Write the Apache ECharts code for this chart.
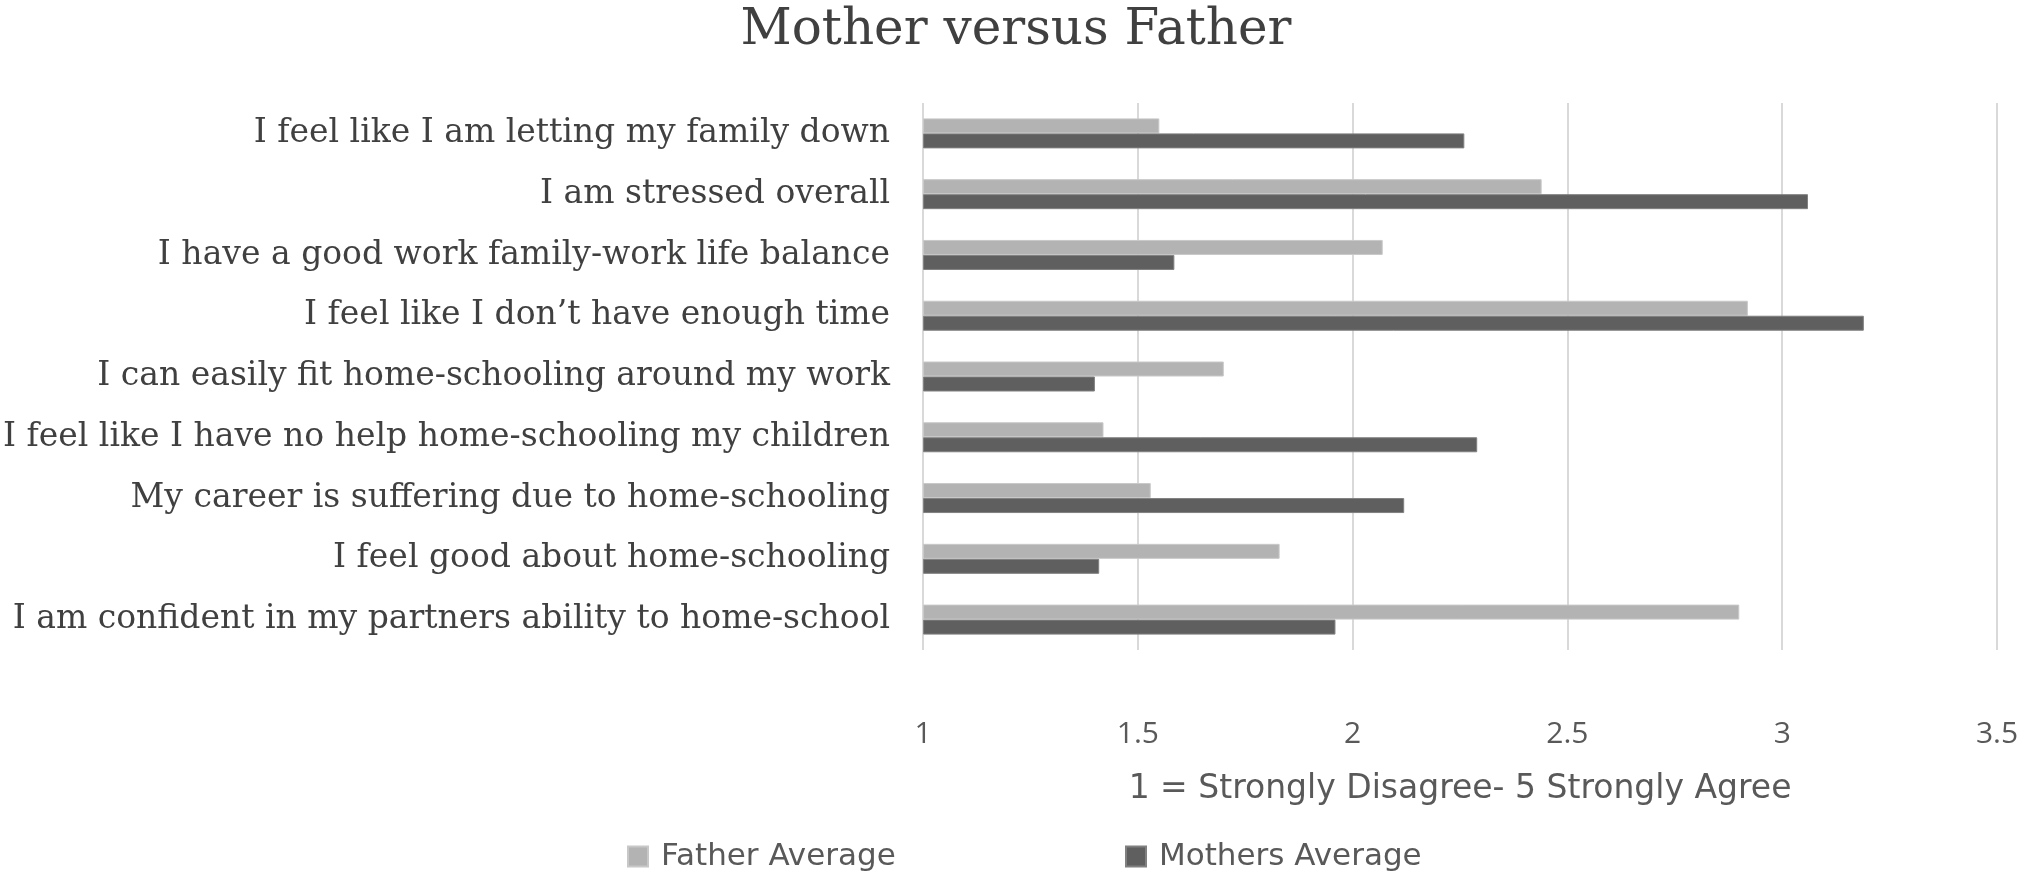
<!DOCTYPE html>
<html>
<head>
<meta charset="utf-8">
<script src="https://cdn.jsdelivr.net/npm/echarts@6/dist/echarts.min.js"></script>
<style>
html,body{margin:0;padding:0;background:#fff;}
#chart{width:2032px;height:874px;}
</style>
</head>
<body>
<div id="chart"></div>
<script>
const categories = [
  "I feel like I am letting my family down",
  "I am stressed overall",
  "I have a good work family-work life balance",
  "I feel like I don\u2019t have enough time",
  "I can easily fit home-schooling around my work",
  "I feel like I have no help home-schooling my children",
  "My career is suffering due to home-schooling",
  "I feel good about home-schooling",
  "I am confident in my partners ability to home-school"
];
const fatherAverage = [1.55, 2.44, 2.07, 2.92, 1.70, 1.42, 1.53, 1.83, 2.90];
const mothersAverage = [2.26, 3.06, 1.585, 3.19, 1.40, 2.29, 2.12, 1.41, 1.96];
const xTicks = [1, 1.5, 2, 2.5, 3, 3.5];
const seriesNames = ["Father Average", "Mothers Average"];

const chart = echarts.init(document.getElementById('chart'));
const sansFont = "'Open Sans', sans-serif";
const wideSans = "'DejaVu Sans', sans-serif";
const serifFont = "'DejaVu Serif', serif";
chart.setOption({
  animation: false,
  backgroundColor: '#ffffff',
  title: {
    text: 'Mother versus Father',
    left: 'center',
    top: 1,
    textStyle: { fontFamily: serifFont, fontSize: 50, fontWeight: 'normal', color: '#404040' }
  },
  legend: [
    {
      data: [seriesNames[0]], left: 622, top: 836, icon: 'rect', itemWidth: 20, itemHeight: 20,
      textStyle: { fontFamily: wideSans, fontSize: 31, color: '#595959', padding: [0, 0, 0, 8] }
    },
    {
      data: [seriesNames[1]], left: 1120, top: 836, icon: 'rect', itemWidth: 20, itemHeight: 20,
      textStyle: { fontFamily: wideSans, fontSize: 31, color: '#595959', padding: [0, 0, 0, 8] }
    }
  ],
  grid: { left: 923, right: 35, top: 103, bottom: 224, containLabel: false },
  xAxis: {
    type: 'value',
    min: xTicks[0],
    max: xTicks[xTicks.length - 1],
    interval: 0.5,
    startValue: 1,
    name: '1 = Strongly Disagree- 5 Strongly Agree',
    nameLocation: 'middle',
    nameGap: 123,
    nameTextStyle: { fontFamily: wideSans, fontSize: 33, color: '#595959' },
    axisLine: { show: false },
    axisTick: { show: false },
    axisLabel: { fontFamily: sansFont, fontSize: 30, color: '#595959', margin: 69 },
    splitLine: { show: true, lineStyle: { color: '#d9d9d9', width: 2 } }
  },
  yAxis: {
    type: 'category',
    inverse: true,
    data: categories,
    axisLine: { show: false },
    axisTick: { show: false },
    axisLabel: { fontFamily: serifFont, fontSize: 33, color: '#404040', margin: 33 },
    splitLine: { show: false }
  },
  series: [
    {
      name: seriesNames[0], type: 'bar', data: fatherAverage, barWidth: 15, barGap: '0%', clip: true,
      itemStyle: { color: '#b3b3b3', borderColor: '#c8c8c8', borderWidth: 1 }
    },
    {
      name: seriesNames[1], type: 'bar', data: mothersAverage, barWidth: 15, barGap: '0%', clip: true,
      itemStyle: { color: '#5f5f5f', borderColor: '#808080', borderWidth: 1 }
    }
  ]
});
</script>
</body>
</html>
